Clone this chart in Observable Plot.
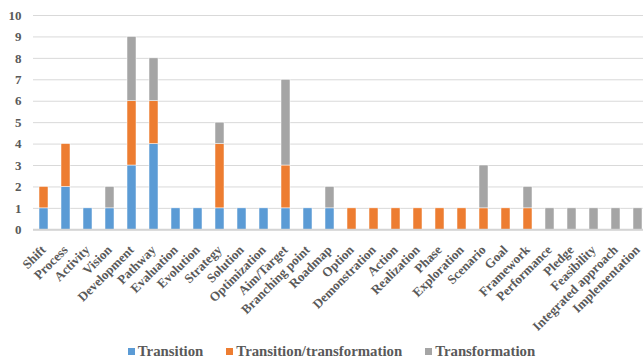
<!DOCTYPE html>
<html>
<head>
<meta charset="utf-8">
<script src="https://cdn.jsdelivr.net/npm/d3@7"></script>
<script src="https://cdn.jsdelivr.net/npm/@observablehq/plot@0.6"></script>
<style>
  html, body { margin: 0; padding: 0; background: #ffffff; }
  #chart { width: 643px; }
  .legend {
    display: flex; justify-content: center; align-items: center; gap: 23px;
    height: 22px; padding-top: 5px; padding-left: 20px; box-sizing: border-box; width: 643px;
    font-family: "Liberation Serif", "Times New Roman", serif; font-weight: bold;
    font-size: 14.8px; color: #595959;
  }
  .legend span.item { display: inline-flex; align-items: center; gap: 3px; }
  .legend span.swatch { display: inline-block; width: 7px; height: 7px; }
</style>
</head>
<body>
<div id="chart"></div>
<script>
// Term categories along the x axis
const categories = [
  "Shift", "Process", "Activity", "Vision", "Development", "Pathway", "Evaluation",
  "Evolution", "Strategy", "Solution", "Optimization", "Aim/Target", "Branching point",
  "Roadmap", "Option", "Demonstration", "Action", "Realization", "Phase", "Exploration",
  "Scenario", "Goal", "Framework", "Performance", "Pledge", "Feasibility",
  "Integrated approach", "Implementation"
];

// Counts per series, aligned with categories
const transition = [1, 2, 1, 1, 3, 4, 1, 1, 1, 1, 1, 1, 1, 1, 0, 0, 0, 0, 0, 0, 0, 0, 0, 0, 0, 0, 0, 0];
const transitionTransformation = [1, 2, 0, 0, 3, 2, 0, 0, 3, 0, 0, 2, 0, 0, 1, 1, 1, 1, 1, 1, 1, 1, 1, 0, 0, 0, 0, 0];
const transformation = [0, 0, 0, 1, 3, 2, 0, 0, 1, 0, 0, 4, 0, 1, 0, 0, 0, 0, 0, 0, 2, 0, 1, 1, 1, 1, 1, 1];

const seriesNames = ["Transition", "Transition/transformation", "Transformation"];
const seriesColors = ["#5B9BD5", "#ED7D31", "#A5A5A5"];
const yTicks = [0, 1, 2, 3, 4, 5, 6, 7, 8, 9, 10];

// Long-format rows for stacking (bottom to top in series order)
const seriesValues = [transition, transitionTransformation, transformation];
const rows = [];
seriesNames.forEach((name, s) => {
  categories.forEach((cat, i) => {
    const v = seriesValues[s][i];
    if (v > 0) rows.push({category: cat, series: name, value: v});
  });
});

const textColor = "#595959";
const serif = "'Liberation Serif', 'Times New Roman', serif";

const chart = Plot.plot({
  width: 643,
  height: 338,
  marginLeft: 33,
  marginRight: 0,
  marginTop: 15,
  marginBottom: 108.7,
  style: {
    fontFamily: serif,
    fontWeight: "bold",
    fontSize: "13px",
    color: textColor,
    background: "#ffffff"
  },
  x: {domain: categories, range: [33, 649], paddingInner: 0.59, paddingOuter: 0.295, label: null, axis: null},
  y: {domain: [0, 10], label: null},
  color: {domain: seriesNames, range: seriesColors},
  marks: [
    Plot.gridY(yTicks, {stroke: "#d9d9d9", strokeOpacity: 1, strokeWidth: 1}),
    Plot.barY(rows, {
      x: "category", y: "value", fill: "series",
      stroke: "#ffffff", strokeWidth: 0.5
    }),
    Plot.ruleY([0], {stroke: "#d4d4d4", strokeWidth: 2}),
    Plot.axisY(yTicks, {
      tickSize: 0, tickPadding: 12, label: null, fill: textColor,
      fontSize: 13, fontFamily: serif, fontWeight: "bold", fontVariant: "normal"
    }),
    // Category labels, slanted at 45° and ending under each bar
    Plot.text(categories, {
      x: (d) => d, frameAnchor: "bottom", rotate: -45,
      textAnchor: "end", lineAnchor: "middle", dx: -0.3, dy: 18,
      fill: textColor, fontSize: 13, fontFamily: serif, fontWeight: "bold"
    })
  ]
});

document.getElementById("chart").appendChild(chart);

// Legend below the plot
const legend = document.createElement("div");
legend.className = "legend";
seriesNames.forEach((name, i) => {
  const item = document.createElement("span");
  item.className = "item";
  const sw = document.createElement("span");
  sw.className = "swatch";
  sw.style.background = seriesColors[i];
  const label = document.createElement("span");
  label.textContent = name;
  item.appendChild(sw);
  item.appendChild(label);
  legend.appendChild(item);
});
document.body.appendChild(legend);
</script>
</body>
</html>
